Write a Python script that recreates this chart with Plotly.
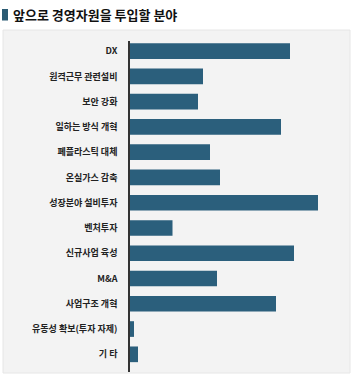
import plotly.graph_objects as go

categories = ["DX", "원격근무 관련설비", "보안 강화", "일하는 방식 개혁", "폐플라스틱 대체",
              "온실가스 감축", "성장분야 설비투자", "벤처투자", "신규사업 육성", "M&A",
              "사업구조 개혁", "유동성 확보(투자 자제)", "기 타"]
values = [32.0, 14.6, 13.6, 30.2, 16.0, 18.0, 37.6, 8.5, 32.8, 17.4, 29.2, 0.8, 1.6]
title_text = "앞으로 경영자원을 투입할 분야"

W, H = 358, 381
L, R, T, B = 130, 18, 41, 9
pw, ph = W - L - R, H - T - B

def px_x(x):
    return (x - L) / pw

def px_y(y):
    return (H - B - y) / ph

FONT = "Noto Sans CJK KR"

fig = go.Figure(go.Bar(
    x=values, y=categories, orientation="h",
    marker=dict(color="#2b5f7c", line=dict(width=0)),
    width=0.62,
))

fig.update_layout(
    width=W, height=H,
    margin=dict(l=L, r=R, t=T, b=B),
    paper_bgcolor="white",
    plot_bgcolor="rgba(0,0,0,0)",
    showlegend=False,
    font=dict(family=FONT, color="#222"),
    xaxis=dict(range=[0, pw / 5.0], visible=False, fixedrange=True),
    yaxis=dict(
        type="category",
        range=[len(categories) - 1 + 0.7, -0.4],
        showline=True, linecolor="#333", linewidth=1.5,
        showgrid=False, zeroline=False,
        ticks="outside", ticklen=9, tickcolor="rgba(0,0,0,0)",
        tickfont=dict(family=FONT, size=9, color="#222", weight="bold"),
    ),
    shapes=[
        dict(type="rect", xref="paper", yref="paper",
             x0=px_x(3), x1=px_x(350), y0=px_y(373), y1=px_y(30),
             fillcolor="#f3f3f3", line=dict(color="#e6e6e6", width=1), layer="below"),
        dict(type="rect", xref="paper", yref="paper",
             x0=px_x(2), x1=px_x(8), y0=px_y(20.5), y1=px_y(9),
             fillcolor="#2b5b73", line=dict(width=0)),
    ],
    annotations=[
        dict(text=title_text, xref="paper", yref="paper",
             x=px_x(11), y=px_y(15), xanchor="left", yanchor="middle",
             showarrow=False,
             font=dict(family=FONT, size=13, color="#111", weight="bold")),
    ],
)

fig.write_html("out.html", config={"displayModeBar": False},
               post_script="document.body.style.margin='0';document.body.style.padding='0';")
